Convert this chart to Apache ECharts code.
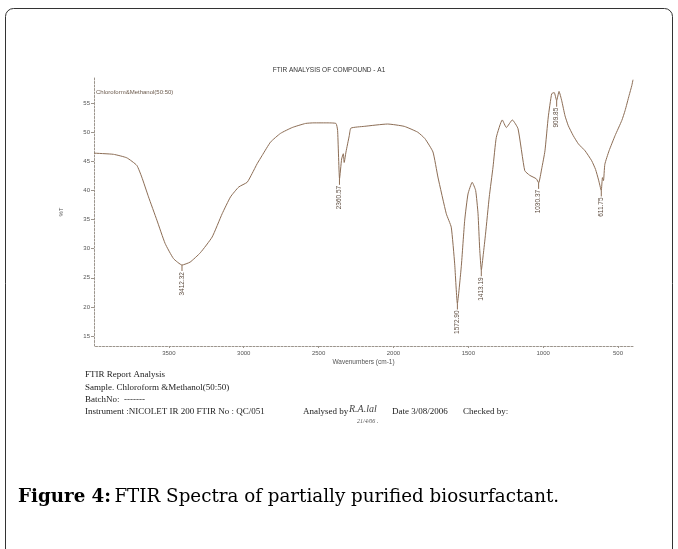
<!DOCTYPE html>
<html><head><meta charset="utf-8">
<script src="https://cdn.jsdelivr.net/npm/echarts@6/dist/echarts.min.js"></script>
<style>html,body{margin:0;padding:0;background:#fff}#c{width:678px;height:549px}</style>
</head><body><div id="c"></div>
<script>
// Spectrum (wavenumber cm-1, %T)
const wavenumbers = [4000,3870,3781,3714,3681,3636,3580,3525,3469,3412,3358,3290,3211,3144,3088,3033,2977,2944,2910,2877,2821,2754,2676,2587,2531,2450,2384,2373,2360,2346,2335,2329,2317,2295,2284,2195,2039,1928,1838,1790,1736,1703,1647,1614,1591,1573,1547,1524,1502,1474,1451,1435,1424,1413,1400,1385,1360,1335,1313,1273,1246,1206,1168,1123,1090,1046,1030,1010,988,966,943,926,910,894,876,854,832,799,765,720,676,650,630,612,604,597,588,560,520,475,453,426,408,400];
const transmittance = [46.4,46.2,45.6,44.3,42.3,38.9,34.9,30.9,28.3,27.2,27.7,29.3,32.0,36.0,38.9,40.6,41.4,42.9,44.6,46.0,48.3,49.8,50.8,51.5,51.6,51.6,51.5,50.3,42.0,45.4,46.3,44.8,46.6,49.4,50.7,51.0,51.4,51.0,50.0,48.9,46.6,42.3,36.0,33.7,27.4,20.6,26.9,34.9,39.4,41.4,40.0,36.0,30.0,26.3,29.0,32.5,38.9,44.0,49.1,52.1,50.8,52.1,50.6,43.4,42.6,42.0,41.3,43.7,46.8,52.6,56.6,56.8,55.4,57.0,55.4,52.8,51.1,49.4,48.0,46.8,45.1,43.6,41.8,40.0,42.2,41.7,44.5,46.8,49.4,52.0,53.7,56.3,58.0,59.0];
const peakWavenumbers = [3412.32,2360.57,1572.90,1413.19,1030.37,909.85,611.75];
const peakTransmittance = [27.2,42.0,20.6,26.3,41.3,55.4,40.0];
const peakLabels = ['3412.32','2360.57','1572.90','1413.19','1030.37','909.85','611.75'];
const xTickValues = [3500,3000,2500,2000,1500,1000,500];
const yTickValues = [15,20,25,30,35,40,45,50,55];

const chart = echarts.init(document.getElementById('c'), null, {renderer:'canvas'});
const sans = 'Liberation Sans';
const ink = '#8c6d55';
const axisCol = '#9b948c';
const txtCol = '#555';

const spectrum = wavenumbers.map((w,i)=>[w, transmittance[i]]);
const peaks = peakWavenumbers.map((w,i)=>[w, peakTransmittance[i]]);

const footer = [
  ['FTIR Report Analysis', 85, 375],
  ['Sample. Chloroform &Methanol(50:50)', 85, 388],
  ['BatchNo:  -------', 85, 400],
  ['Instrument :NICOLET IR 200 FTIR No : QC/051', 85, 412],
  ['Analysed by', 303, 412],
  ['Date 3/08/2006', 392, 412],
  ['Checked by:', 463, 412]
];

const graphics = [
  {type:'rect', shape:{x:5.5, y:8.5, width:667, height:570, r:8}, style:{fill:'none', stroke:'#333', lineWidth:1}, silent:true},
  {type:'text', x:329, y:70, style:{text:'FTIR ANALYSIS OF COMPOUND - A1', font:'6.5px "Liberation Sans"', fill:'#333', align:'center', verticalAlign:'middle'}},
  {type:'text', x:96, y:92, style:{text:'Chloroform&Methanol(50:50)', font:'6px "Liberation Sans"', fill:'#6b5a4c', align:'left', verticalAlign:'middle'}},
  {type:'text', x:349, y:409, style:{text:'R.A.lal', font:'italic 10px "Liberation Serif"', fill:'#444', align:'left', verticalAlign:'middle'}},
  {type:'text', x:357, y:421, style:{text:'21/4/06 .', font:'italic 6px "Liberation Serif"', fill:'#555', align:'left', verticalAlign:'middle'}},
  {type:'text', x:18, y:497, style:{rich:{b:{font:'bold 18.3px "DejaVu Serif"', fill:'#000'}, n:{font:'18.3px "DejaVu Serif"', fill:'#000'}}, text:'{b|Figure 4:} {n|FTIR Spectra of partially purified biosurfactant.}', align:'left', verticalAlign:'middle'}}
];
footer.forEach(f=>graphics.push({type:'text', x:f[1], y:f[2], style:{text:f[0], font:'9px "Liberation Serif"', fill:'#222', align:'left', verticalAlign:'middle'}}));

chart.setOption({
  animation:false,
  backgroundColor:'#fff',
  grid:{left:94, right:45, top:78, bottom:203, containLabel:false},
  xAxis:{
    type:'value', inverse:true, min:400, max:4000,
    name:'Wavenumbers (cm-1)', nameLocation:'middle', nameGap:13,
    nameTextStyle:{fontFamily:sans, fontSize:6.5, color:txtCol},
    axisLine:{show:true, onZero:false, lineStyle:{color:axisCol, type:[2,1.5], width:1}},
    axisTick:{show:true, customValues:xTickValues, length:2, inside:false, lineStyle:{color:axisCol}},
    axisLabel:{customValues:xTickValues, formatter:v=>String(v), fontFamily:sans, fontSize:6, color:txtCol, margin:4},
    splitLine:{show:false}
  },
  yAxis:{
    type:'value', min:13.3, max:59.3,
    name:'%T', nameLocation:'middle', nameGap:30, nameRotate:90,
    nameTextStyle:{fontFamily:sans, fontSize:6, color:txtCol},
    axisLine:{show:true, onZero:false, lineStyle:{color:axisCol, type:[2,1.5], width:1}},
    axisTick:{show:true, customValues:yTickValues, length:3, lineStyle:{color:axisCol}},
    axisLabel:{customValues:yTickValues, formatter:v=>String(v), fontFamily:sans, fontSize:6, color:txtCol, margin:4},
    splitLine:{show:false}
  },
  series:[
    {type:'line', data:spectrum, showSymbol:false, symbol:'none', smooth:0.15,
     lineStyle:{color:ink, width:1}, silent:true},
    {type:'custom', data:peaks, silent:true,
     renderItem:function(params, api){
       const p = api.coord([api.value(0), api.value(1)]);
       return {type:'group', children:[
         {type:'line', shape:{x1:p[0], y1:p[1], x2:p[0], y2:p[1]+6}, style:{stroke:ink, lineWidth:1}},
         {type:'text', x:p[0], y:p[1]+7, rotation:Math.PI/2,
          style:{text:peakLabels[params.dataIndex], font:'6.5px "Liberation Sans"', fill:'#5e4d40', align:'right', verticalAlign:'middle'}}
       ]};
     }}
  ],
  graphic:graphics
});
</script></body></html>
